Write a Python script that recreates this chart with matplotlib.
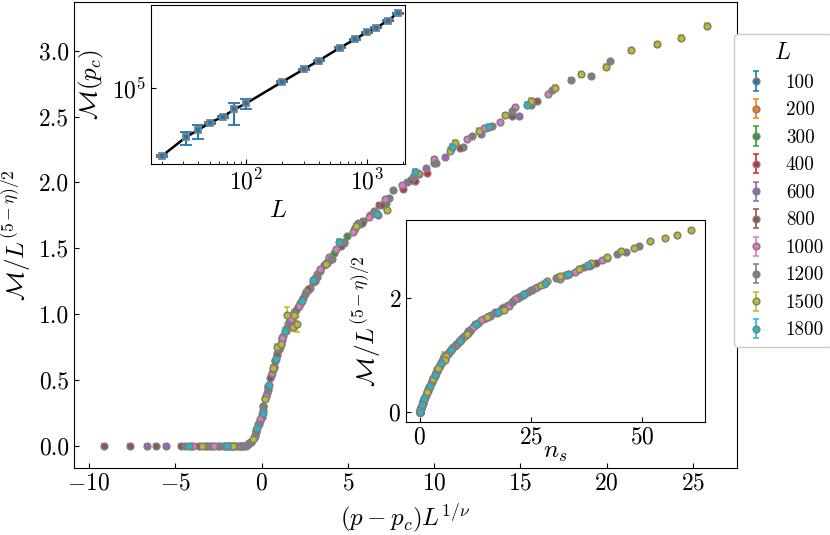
import matplotlib
matplotlib.use("Agg")
import matplotlib.pyplot as plt
from matplotlib.ticker import NullLocator

plt.rcParams["font.family"] = "cmr10"
plt.rcParams["mathtext.fontset"] = "cm"
plt.rcParams["axes.formatter.use_mathtext"] = True
plt.rcParams["axes.unicode_minus"] = True

# system sizes shown in the legend
sizes = [100, 200, 300, 400, 600, 800, 1000, 1200, 1500, 1800]

# scaled abscissa (p - p_c) L^{1/nu}, per L
x_100 = [-1.5, -0.8, -0.3, 0.1, 0.4, 0.8, 1.2, 1.7, 2.4, 3.1, 3.9]
x_200 = [-2.0, -1.1, -0.6, -0.2, 0.2, 0.55, 0.9, 1.25, 1.6, 2.2, 2.8, 3.22, 3.86, 4.6, 5.4]
x_300 = [-3.0, -1.9, -1.26, -0.7, -0.35, 0.0, 0.35, 0.7, 1.05, 1.5, 2.1, 2.7, 3.4,
         4.2, 4.96, 5.9, 7.2]
x_400 = [-3.6, -2.5, -1.6, -0.83, -0.4, 0.0, 0.4, 0.8, 1.2, 1.7, 2.3, 3.0, 3.8, 4.77,
         5.7, 6.8, 8.2, 8.88, 9.6]
x_600 = [-6.62, -5.54, -4.1, -2.9, -1.8, -0.9, -0.45, -0.1, 0.3, 0.7, 1.1, 1.6, 2.3,
         3.1, 4.1, 5.34, 6.3, 7.39, 8.43, 9.5, 10.6, 11.7, 12.7, 14.9]
x_800 = [-9.12, -7.63, -6.14, -4.67, -3.3, -2.2, -1.3, -0.7, -0.3, 0.1, 0.5, 0.9, 1.4,
         2.0, 2.7, 3.6, 4.6, 5.8, 7.0, 8.65, 10.0, 11.5, 13.0, 14.5, 15.96]
x_1000 = [-4.0, -2.76, -2.2, -1.2, -0.6, -0.1, 0.25, 0.6, 1.02, 1.2, 1.7, 2.18, 2.57,
          3.38, 3.92, 4.34, 5.3, 6.2, 7.14, 8.14, 9.1, 10.0, 11.9, 12.9, 13.8, 14.7, 16.6]
x_1200 = [-4.44, -3.18, -2.4, -1.7, -1.1, -0.7, -0.4, -0.15, 0.1, 0.35, 0.65, 1.0, 1.4,
          1.9, 2.5, 3.2, 4.0, 4.8, 5.6, 6.5, 7.62, 8.78, 10.1, 11.0, 12.2, 13.35, 14.5,
          15.6, 16.8, 17.95, 19.1, 20.2]
x_1500 = [-3.47, -1.68, -0.52, 0.19, 0.67, 0.9, 1.1, 1.5, 1.83, 1.87, 2.06, 3.72, 5.5,
          6.75, 7.27, 9.07, 10.9, 11.2, 12.6, 14.1, 15.6, 17.0, 18.5, 19.95, 21.4, 22.9,
          24.3, 25.8]
x_1800 = [-4.21, -2.03, -0.29, 0.06, 0.44, 0.81, 1.35, 2.37, 2.99, 4.48, 6.66, 8.88,
          11.06, 13.2, 15.4]

# M / L^{(5-eta)/2}, per L
y_100 = [0.0, 0.01, 0.11, 0.27, 0.45, 0.65, 0.82, 0.97, 1.12, 1.27, 1.42]
y_200 = [0.0, 0.0, 0.03, 0.16, 0.36, 0.53, 0.70, 0.83, 0.935, 1.08, 1.20, 1.30, 1.40,
         1.53, 1.65]
y_300 = [0.0, 0.0, 0.0, 0.02, 0.10, 0.22, 0.42, 0.60, 0.75, 0.90, 1.05, 1.18, 1.33,
         1.46, 1.59, 1.71, 1.84]
y_400 = [0.0, 0.0, 0.0, 0.005, 0.08, 0.24, 0.45, 0.64, 0.80, 0.95, 1.09, 1.24, 1.39,
         1.54, 1.68, 1.83, 1.95, 2.01, 2.07]
y_600 = [0.0, 0.0, 0.0, 0.0, 0.0, 0.0, 0.06, 0.19, 0.40, 0.60, 0.77, 0.93, 1.09, 1.25,
         1.42, 1.64, 1.75, 1.88, 2.0, 2.11, 2.19, 2.27, 2.37, 2.505]
y_800 = [0.0, 0.0, 0.0, 0.0, 0.0, 0.0, 0.0, 0.02, 0.12, 0.30, 0.51, 0.69, 0.88, 1.03,
         1.19, 1.37, 1.52, 1.69, 1.83, 2.02, 2.15, 2.26, 2.41, 2.505, 2.62]
y_1000 = [0.0, 0.0, 0.0, 0.0, 0.03, 0.20, 0.38, 0.55, 0.73, 0.82, 0.96, 1.06, 1.17,
          1.34, 1.43, 1.49, 1.62, 1.74, 1.87, 1.98, 2.06, 2.18, 2.33, 2.41, 2.46, 2.57,
          2.67]
y_1200 = [0.0, 0.0, 0.0, 0.0, 0.0, 0.02, 0.07, 0.16, 0.30, 0.44, 0.58, 0.73, 0.87,
          1.01, 1.15, 1.28, 1.42, 1.55, 1.69, 1.78, 1.94, 2.04, 2.15, 2.25, 2.35, 2.43,
          2.54, 2.59, 2.70, 2.78, 2.81, 2.92]
y_1500 = [0.0, 0.0, 0.05, 0.35, 0.59, 0.75, 0.77, 0.99, 0.90, 0.99, 0.92, 1.38, 1.67,
          1.755, 1.79, 2.07, 2.24, 2.30, 2.39, 2.51, 2.62, 2.72, 2.82, 2.88, 3.005, 3.05,
          3.10, 3.19]
y_1800 = [0.0, 0.0, 0.13, 0.245, 0.46, 0.66, 0.87, 1.10, 1.255, 1.55, 1.76, 2.08, 2.27,
          2.42, 2.59]

# n_s for the lower inset, per L
n_100 = [0.0, 0.05, 0.45, 1.2, 2.2, 3.4, 4.5, 5.6, 7.3, 9.2, 11.1]
n_200 = [0.0, 0.0, 0.1, 0.7, 1.7, 2.7, 3.75, 4.6, 5.4, 6.9, 8.3, 9.6, 10.9, 12.5, 15.0]
n_300 = [0.0, 0.0, 0.0, 0.08, 0.4, 0.95, 2.0, 3.1, 4.1, 5.0, 6.5, 8.1, 10.0, 11.6, 13.4,
         16.0, 19.0]
n_400 = [0.0, 0.0, 0.0, 0.02, 0.3, 1.0, 2.2, 3.4, 4.4, 5.6, 7.0, 8.9, 10.8, 12.5, 15.5,
         18.6, 21.0, 22.0, 23.4]
n_600 = [0.0, 0.0, 0.0, 0.0, 0.0, 0.0, 0.25, 0.8, 1.9, 3.1, 4.2, 5.2, 7.0, 8.9, 10.9,
         14.3, 17.0, 19.8, 21.9, 24.3, 26.3, 28.2, 31.0, 35.8]
n_800 = [0.0, 0.0, 0.0, 0.0, 0.0, 0.0, 0.0, 0.08, 0.5, 1.35, 2.6, 3.7, 5.0, 6.3, 8.2,
         10.6, 12.2, 15.8, 18.8, 22.2, 25.0, 28.1, 32.7, 35.8, 39.5]
n_1000 = [0.0, 0.0, 0.0, 0.0, 0.1, 0.85, 1.8, 2.8, 3.95, 4.5, 5.5, 6.5, 7.9, 10.3, 11.3,
          12.0, 13.7, 17.3, 20.0, 21.5, 23.2, 26.0, 31.5, 33.0, 34.8, 38.0, 41.0]
n_1200 = [0.0, 0.0, 0.0, 0.0, 0.0, 0.08, 0.3, 0.7, 1.35, 2.1, 2.95, 3.95, 4.9, 5.9, 7.6,
          9.4, 11.1, 12.8, 15.6, 18.1, 20.7, 22.8, 25.2, 27.9, 30.5, 33.5, 36.9, 38.4,
          42.0, 44.2, 46.4, 49.2]
n_1500 = [0.0, 0.0, 0.2, 1.66, 3.0, 4.0, 4.2, 5.4, 5.2, 5.9, 5.7, 10.65, 15.1, 17.5,
          18.9, 23.5, 27.2, 28.5, 31.6, 35.7, 38.5, 42.0, 45.3, 48.2, 51.8, 55.0, 57.8,
          61.0]
n_1800 = [0.0, 0.0, 0.5, 0.95, 2.25, 3.5, 4.9, 7.05, 9.0, 12.7, 17.6, 23.4, 28.2, 33.3,
          37.75]

# error bars
e_small = [0.01, 0.01, 0.01, 0.01, 0.01, 0.01, 0.01, 0.01]
e_1500 = [0.0, 0.0, 0.01, 0.015, 0.02, 0.02, 0.02, 0.06, 0.03, 0.04, 0.06, 0.02, 0.02,
          0.02, 0.02, 0.02, 0.02, 0.02, 0.02, 0.02, 0.02, 0.02, 0.02, 0.02, 0.02, 0.02,
          0.02, 0.02]
e_1800 = [0.0, 0.0, 0.01, 0.015, 0.015, 0.02, 0.02, 0.02, 0.02, 0.02, 0.02, 0.02, 0.02,
          0.02, 0.02]

# upper inset: M(p_c) against L
L_pc = [20, 32, 40, 50, 64, 80, 100, 200, 300, 400, 600, 800, 1000, 1200, 1500, 1800]
M_pc = [404, 1928, 3319, 5998, 9750, 17780, 28900, 166700, 455000, 914000, 2.62e6,
        5.19e6, 9.14e6, 1.33e7, 2.34e7, 4.27e7]
M_pc_err = [40, 910, 1700, 400, 900, 12700, 11000, 6000, 15000, 30000, 80000, 150000,
            250000, 400000, 700000, 1.2e6]

xs = [x_100, x_200, x_300, x_400, x_600, x_800, x_1000, x_1200, x_1500, x_1800]
ys = [y_100, y_200, y_300, y_400, y_600, y_800, y_1000, y_1200, y_1500, y_1800]
ns = [n_100, n_200, n_300, n_400, n_600, n_800, n_1000, n_1200, n_1500, n_1800]
errs = e_small + [e_1500, e_1800]

W, H = 830, 535
fig = plt.figure(figsize=(W / 100, H / 100), dpi=100)
ax = fig.add_axes([74 / W, 1 - 468 / H, 663 / W, 466 / H])
ax_top = fig.add_axes([151 / W, 1 - 164 / H, 254 / W, 159 / H])
ax_bot = fig.add_axes([406 / W, 1 - 422 / H, 299 / W, 202 / H])

style = dict(fmt="o", ms=4.8, mew=1.1, mec="tab:gray", capsize=2.5, elinewidth=1.2)
for i, L in enumerate(sizes):
    c = "C%d" % i
    ax.errorbar(xs[i], ys[i], yerr=errs[i], color=c, label=str(L), **style)
    ax_bot.errorbar(ns[i], ys[i], yerr=errs[i], color=c, **style)

ax.set_xlabel(r"$(p-p_c)L^{1/\nu}$", fontsize=18)
ax.set_ylabel(r"$\mathcal{M}/L^{(5-\eta)/2}$", fontsize=18)
ax.set_xticks([-10, -5, 0, 5, 10, 15, 20, 25])
ax.set_yticks([0.0, 0.5, 1.0, 1.5, 2.0, 2.5, 3.0])
ax.set_yticklabels(["0.0", "0.5", "1.0", "1.5", "2.0", "2.5", "3.0"])
ax.tick_params(direction="in", labelsize=17)

leg = ax.legend(title="$L$", loc="center left", bbox_to_anchor=(0.9955, 0.595),
                borderaxespad=0, fontsize=13.8, title_fontsize=17, framealpha=1,
                handlelength=1.5, handletextpad=0.8, labelspacing=0.5)

ax_top.plot(L_pc, M_pc, "k-", lw=1.8, zorder=1)
ax_top.errorbar(L_pc, M_pc, yerr=M_pc_err, fmt="s", ms=4.5, mew=1.3, color="C0",
                mec="tab:gray", capsize=4, elinewidth=1.5, zorder=2)
ax_top.set_xscale("log")
ax_top.set_yscale("log")
ax_top.set_xlim(16.3, 2076)
ax_top.set_ylim(10 ** 2.33, 10 ** 7.92)
ax_top.set_yticks([1e5])
ax_top.yaxis.set_minor_locator(NullLocator())
ax_top.set_xlabel("$L$", fontsize=18)
ax_top.set_ylabel(r"$\mathcal{M}(p_c)$", fontsize=18)
ax_top.tick_params(which="both", direction="in", labelsize=17)

ax_bot.set_xticks([0, 25, 50])
ax_bot.set_yticks([0, 2])
ax_bot.set_xlabel("$n_s$", fontsize=18, labelpad=-5)
ax_bot.set_ylabel(r"$\mathcal{M}/L^{(5-\eta)/2}$", fontsize=18)
ax_bot.tick_params(direction="in", labelsize=17)

fig.savefig("out.png", dpi=100)
